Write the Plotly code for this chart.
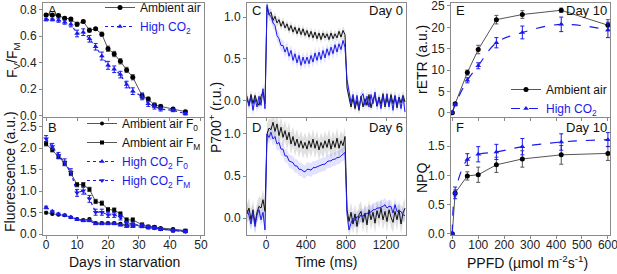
import plotly.graph_objects as go

W, H = 617, 274
BLUE = "#1a1aeb"
BLACK = "#000000"
GREYL = "#555555"

# ---------------- Panel A/B data ----------------
days = [0, 2, 4, 6, 8, 10, 12, 14, 16, 18, 20, 22, 24, 26, 28, 31, 33, 35, 37, 41, 45]
fvfm_air = [0.76, 0.76, 0.755, 0.735, 0.73, 0.69, 0.71, 0.645, 0.655, 0.615, 0.505, 0.465, 0.41, 0.345, 0.29, 0.15, 0.125, 0.08, 0.07, 0.05, 0.03]
fvfm_air_err = [0.01, 0.01, 0.01, 0.01, 0.01, 0.015, 0.01, 0.015, 0.01, 0.015, 0.02, 0.02, 0.02, 0.02, 0.02, 0.02, 0.015, 0.015, 0.015, 0.01, 0.01]
fvfm_co2 = [0.725, 0.725, 0.72, 0.705, 0.69, 0.62, 0.63, 0.58, 0.52, 0.45, 0.38, 0.35, 0.31, 0.235, 0.185, 0.145, 0.09, 0.07, 0.05, 0.04, 0.015]
fvfm_co2_err = [0.01, 0.01, 0.015, 0.015, 0.02, 0.025, 0.025, 0.025, 0.025, 0.03, 0.03, 0.025, 0.025, 0.025, 0.025, 0.025, 0.02, 0.02, 0.015, 0.01, 0.01]

f0_air = [0.5, 0.47, 0.45, 0.44, 0.39, 0.35, 0.33, 0.35, 0.26, 0.26, 0.26, 0.26, 0.24, 0.21, 0.21, 0.2, 0.18, 0.17, 0.14, 0.12, 0.08]
fm_air = [2.1, 1.96, 1.8, 1.65, 1.42, 1.15, 1.15, 1.04, 0.76, 0.72, 0.57, 0.56, 0.47, 0.33, 0.33, 0.22, 0.17, 0.16, 0.12, 0.09, 0.08]
f0_co2 = [0.62, 0.53, 0.47, 0.44, 0.39, 0.34, 0.31, 0.31, 0.24, 0.24, 0.24, 0.24, 0.21, 0.18, 0.18, 0.17, 0.16, 0.14, 0.12, 0.09, 0.06]
fm_co2 = [2.22, 2.04, 1.83, 1.67, 1.44, 0.96, 1.01, 0.82, 0.51, 0.51, 0.45, 0.45, 0.39, 0.25, 0.23, 0.2, 0.16, 0.14, 0.12, 0.08, 0.06]
f0_err = [0.03, 0.02, 0.02, 0.02, 0.02, 0.02, 0.02, 0.02, 0.02, 0.02, 0.02, 0.02, 0.02, 0.02, 0.02, 0.02, 0.02, 0.02, 0.02, 0.02, 0.02]
fm_air_err = [0.05, 0.05, 0.05, 0.05, 0.05, 0.05, 0.05, 0.05, 0.05, 0.05, 0.05, 0.05, 0.05, 0.05, 0.05, 0.04, 0.04, 0.03, 0.03, 0.03, 0.03]
fm_co2_err = [0.07, 0.07, 0.07, 0.08, 0.08, 0.08, 0.08, 0.08, 0.07, 0.07, 0.06, 0.06, 0.06, 0.05, 0.05, 0.04, 0.04, 0.03, 0.03, 0.03, 0.03]

# ---------------- Panel C/D data (P700+) ----------------
time_ms = list(range(-190, 1400, 20))
c_air = [0.02, -0.05, 0.07, -0.04, 0.06, -0.02, -0.06, 0.05, 0.1, -0.04,
         1.12, 1.03, 1.06, 0.96, 1.01, 0.93, 0.97, 0.89, 0.95, 0.87,
         0.92, 0.84, 0.9, 0.82, 0.88, 0.8, 0.87, 0.79, 0.86, 0.78,
         0.84, 0.76, 0.83, 0.75, 0.82, 0.74, 0.81, 0.73, 0.81, 0.75,
         0.8, 0.73, 0.81, 0.74, 0.8, 0.75, 0.83, 0.76, 0.84, 0.79,
         0.15, 0.04, -0.08, 0.03, -0.1, 0.0, -0.12, 0.05, -0.08, 0.02,
         -0.06, 0.07, -0.09, 0.01, 0.06, -0.07, 0.04, -0.05, 0.08, -0.08,
         0.03, -0.06, 0.07, -0.04, 0.05, -0.09, 0.04, -0.03, 0.06, -0.02]
c_co2 = [0.05, -0.07, 0.04, -0.12, 0.02, -0.08, 0.05, -0.06, 0.14, -0.1,
         1.15, 1.03, 1.01, 0.93, 0.9, 0.78, 0.74, 0.66, 0.66, 0.58,
         0.64, 0.53, 0.6, 0.48, 0.56, 0.45, 0.54, 0.42, 0.52, 0.44,
         0.52, 0.44, 0.54, 0.46, 0.57, 0.48, 0.58, 0.49, 0.6, 0.51,
         0.62, 0.54, 0.64, 0.56, 0.67, 0.58, 0.68, 0.61, 0.72, 0.64,
         0.25, 0.1, -0.03, 0.07, -0.07, 0.06, -0.1, 0.04, 0.08, -0.06,
         0.05, -0.08, 0.07, -0.04, 0.1, -0.07, 0.02, -0.1, 0.05, -0.05,
         0.08, -0.08, 0.04, -0.12, 0.06, -0.06, 0.03, -0.1, 0.05, -0.14]
d_air = [0.05, 0.12, -0.02, 0.1, -0.07, 0.07, 0.14, 0.12, 0.22, 0.08,
         1.0, 1.07, 1.05, 1.14, 1.03, 1.12, 0.98, 1.08, 0.96, 1.04,
         0.93, 1.02, 0.88, 0.97, 0.86, 0.94, 0.84, 0.92, 0.83, 0.9,
         0.82, 0.92, 0.84, 0.94, 0.83, 0.92, 0.81, 0.9, 0.83, 0.92,
         0.84, 0.94, 0.82, 0.92, 0.84, 0.95, 0.83, 0.92, 0.86, 0.97,
         0.1, -0.04, 0.07, -0.07, 0.05, -0.1, 0.04, 0.08, -0.05, 0.06,
         -0.08, 0.1, -0.02, 0.07, -0.06, 0.09, 0.0, 0.12, -0.02, 0.08,
         -0.04, 0.1, 0.01, -0.05, 0.08, -0.02, 0.1, -0.07, 0.06, 0.12]
d_co2 = [0.1, 0.03, -0.07, 0.07, -0.1, 0.04, 0.1, -0.02, 0.07, -0.14,
         1.0, 0.96, 1.02, 0.94, 0.97, 0.88, 0.9, 0.82, 0.82, 0.74,
         0.74, 0.68, 0.67, 0.66, 0.62, 0.62, 0.58, 0.58, 0.56, 0.55,
         0.58, 0.58, 0.57, 0.6, 0.6, 0.61, 0.62, 0.63, 0.64, 0.64,
         0.67, 0.68, 0.68, 0.7, 0.7, 0.72, 0.72, 0.74, 0.76, 0.78,
         0.05, -0.14, -0.06, 0.0, -0.03, 0.02, 0.0, 0.04, 0.02, 0.06,
         0.05, 0.08, 0.07, 0.1, 0.1, 0.12, 0.12, 0.13, 0.14, 0.16,
         0.12, 0.14, 0.14, 0.06, 0.16, 0.08, 0.08, 0.08, 0.04, 0.03]
c_air_sd, c_co2_sd, d_air_sd, d_co2_sd = 0.05, 0.07, 0.12, 0.08

# ---------------- Panel E/F data ----------------
ppfd = [0, 11, 58, 100, 170, 270, 420, 600]
retr_air = [0, 2.1, 9.4, 14.8, 21.8, 23.0, 24.0, 20.5]
retr_air_err = [0.2, 0.3, 0.6, 1.0, 1.0, 0.9, 0.5, 1.3]
retr_co2 = [0, 1.9, 7.6, 11.0, 16.4, 18.8, 20.7, 19.4]
retr_co2_err = [0.2, 0.3, 0.6, 0.7, 1.2, 1.5, 1.7, 1.8]
npq_air = [0, 0.70, 0.99, 1.01, 1.18, 1.28, 1.35, 1.375]
npq_air_err = [0, 0.05, 0.07, 0.13, 0.13, 0.14, 0.16, 0.12]
npq_co2 = [0, 0.70, 1.27, 1.36, 1.40, 1.49, 1.57, 1.61]
npq_co2_err = [0, 0.1, 0.1, 0.13, 0.13, 0.14, 0.14, 0.12]


def px(x):
    return x / W


def py(y):
    return 1 - y / H


fig = go.Figure()


def err(vals, color):
    return dict(type="data", array=vals, visible=True, color=color, thickness=1, width=2)


# Panel A
fig.add_trace(go.Scatter(x=days, y=fvfm_air, error_y=err(fvfm_air_err, GREYL), mode="lines+markers",
                         line=dict(color=GREYL, width=1), marker=dict(color=BLACK, size=5, symbol="circle"),
                         name="Ambient air", legend="legend", xaxis="x", yaxis="y"))
fig.add_trace(go.Scatter(x=days, y=fvfm_co2, error_y=err(fvfm_co2_err, BLUE), mode="lines+markers",
                         line=dict(color=BLUE, width=1.2, dash="dot"), marker=dict(color=BLUE, size=5, symbol="triangle-up"),
                         name="<span style='color:#1a1aeb'>High CO<sub>2</sub></span>", legend="legend", xaxis="x", yaxis="y"))

# Panel B
fig.add_trace(go.Scatter(x=days, y=f0_air, error_y=err(f0_err, GREYL), mode="lines+markers",
                         line=dict(color=GREYL, width=1), marker=dict(color=BLACK, size=4, symbol="circle"),
                         name="Ambient air F<sub>0</sub>", legend="legend2", xaxis="x2", yaxis="y2"))
fig.add_trace(go.Scatter(x=days, y=fm_air, error_y=err(fm_air_err, GREYL), mode="lines+markers",
                         line=dict(color=GREYL, width=1), marker=dict(color=BLACK, size=4, symbol="square"),
                         name="Ambient air F<sub>M</sub>", legend="legend2", xaxis="x2", yaxis="y2"))
fig.add_trace(go.Scatter(x=days, y=f0_co2, error_y=err(f0_err, BLUE), mode="lines+markers",
                         line=dict(color=BLUE, width=1.2, dash="dot"), marker=dict(color=BLUE, size=5, symbol="triangle-up"),
                         name="<span style='color:#1a1aeb'>High CO<sub>2</sub> F<sub>0</sub></span>", legend="legend2", xaxis="x2", yaxis="y2"))
fig.add_trace(go.Scatter(x=days, y=fm_co2, error_y=err(fm_co2_err, BLUE), mode="lines+markers",
                         line=dict(color=BLUE, width=1.2, dash="dot"), marker=dict(color=BLUE, size=5, symbol="triangle-down"),
                         name="<span style='color:#1a1aeb'>High CO<sub>2</sub> F<sub>M</sub></span>", legend="legend2", xaxis="x2", yaxis="y2"))


# Panels C and D: bands + traces
def band(xa, ya, vals, sd, fillcolor):
    up = [v + sd for v in vals]
    lo = [v - sd for v in vals]
    fig.add_trace(go.Scatter(x=time_ms, y=up, mode="lines", line=dict(width=0), showlegend=False,
                             hoverinfo="skip", xaxis=xa, yaxis=ya))
    fig.add_trace(go.Scatter(x=time_ms, y=lo, mode="lines", line=dict(width=0), fill="tonexty",
                             fillcolor=fillcolor, showlegend=False, hoverinfo="skip", xaxis=xa, yaxis=ya))


GBAND = "rgba(0,0,0,0.12)"
BBAND = "rgba(40,40,255,0.13)"
for xa, ya, air, co2, sa, sc in [("x3", "y3", c_air, c_co2, c_air_sd, c_co2_sd),
                                 ("x4", "y4", d_air, d_co2, d_air_sd, d_co2_sd)]:
    band(xa, ya, air, sa, GBAND)
    band(xa, ya, co2, sc, BBAND)
    fig.add_trace(go.Scatter(x=time_ms, y=air, mode="lines", line=dict(color="#111111", width=1),
                             showlegend=False, xaxis=xa, yaxis=ya))
    fig.add_trace(go.Scatter(x=time_ms, y=co2, mode="lines", line=dict(color=BLUE, width=1),
                             showlegend=False, xaxis=xa, yaxis=ya))

# Panel E
fig.add_trace(go.Scatter(x=ppfd, y=retr_air, error_y=err(retr_air_err, GREYL), mode="lines+markers",
                         line=dict(color=GREYL, width=1), marker=dict(color=BLACK, size=5, symbol="circle"),
                         name="Ambient air", legend="legend3", xaxis="x5", yaxis="y5"))
fig.add_trace(go.Scatter(x=ppfd, y=retr_co2, error_y=err(retr_co2_err, BLUE), mode="lines+markers",
                         line=dict(color=BLUE, width=1.2, dash="dash", shape="spline"),
                         marker=dict(color=BLUE, size=5, symbol="triangle-up"),
                         name="<span style='color:#1a1aeb'>High CO<sub>2</sub></span>", legend="legend3", xaxis="x5", yaxis="y5"))

# Panel F
fig.add_trace(go.Scatter(x=ppfd, y=npq_air, error_y=err(npq_air_err, GREYL), mode="lines+markers",
                         line=dict(color=GREYL, width=1), marker=dict(color=BLACK, size=5, symbol="circle"),
                         showlegend=False, xaxis="x6", yaxis="y6"))
fig.add_trace(go.Scatter(x=ppfd, y=npq_co2, error_y=err(npq_co2_err, BLUE), mode="lines+markers",
                         line=dict(color=BLUE, width=1.2, dash="dash", shape="spline"),
                         marker=dict(color=BLUE, size=5, symbol="triangle-up"),
                         showlegend=False, xaxis="x6", yaxis="y6"))

AX = dict(showline=True, linecolor="#8a8a8a", linewidth=1, mirror=True, ticks="outside", ticklen=3,
          tickcolor="#8a8a8a", showgrid=False, zeroline=False, tickfont=dict(size=12, color="#222"),
          automargin=False, ticklabeloverflow="allow")
XLAB = dict(ticklabelstandoff=-4)

cols = {"A": (43, 204), "C": (247, 406), "E": (451, 610)}
top_rows = (3, 117)
bot_rows = (118, 235)


def dom(a, b):
    return [px(a), px(b)]


def ydom(a, b):
    return [py(b), py(a)]


layout_axes = {}
# A
layout_axes["xaxis"] = dict(AX, domain=dom(*cols["A"]), range=[-1, 51], tickvals=[0, 10, 20, 30, 40, 50],
                            showticklabels=False, anchor="y")
layout_axes["yaxis"] = dict(AX, domain=ydom(*top_rows), range=[-0.01, 0.85], tickvals=[0, 0.2, 0.4, 0.6, 0.8],
                            tickformat=".1f", anchor="x")
# B
layout_axes["xaxis2"] = dict(AX, **XLAB, domain=dom(*cols["A"]), range=[-1, 51], tickvals=[0, 10, 20, 30, 40, 50], anchor="y2")
layout_axes["yaxis2"] = dict(AX, domain=ydom(*bot_rows), range=[-0.02, 2.7], tickvals=[0, 0.5, 1, 1.5, 2, 2.5],
                             tickformat=".1f", anchor="x2")
# C
layout_axes["xaxis3"] = dict(AX, domain=dom(*cols["C"]), range=[-190, 1400], tickvals=[0, 400, 800, 1200],
                             showticklabels=False, anchor="y3")
layout_axes["yaxis3"] = dict(AX, domain=ydom(*top_rows), range=[-0.2, 1.17], tickvals=[0, 0.5, 1.0],
                             tickformat=".1f", anchor="x3")
# D
layout_axes["xaxis4"] = dict(AX, **XLAB, domain=dom(*cols["C"]), range=[-190, 1400], tickvals=[0, 400, 800, 1200], anchor="y4")
layout_axes["yaxis4"] = dict(AX, domain=ydom(*bot_rows), range=[-0.2, 1.19], tickvals=[0, 0.5, 1.0],
                             tickformat=".1f", anchor="x4")
# E
layout_axes["xaxis5"] = dict(AX, domain=dom(*cols["E"]), range=[-5, 608], tickvals=[0, 100, 200, 300, 400, 500, 600],
                             showticklabels=False, anchor="y5")
layout_axes["yaxis5"] = dict(AX, domain=ydom(*top_rows), range=[-1, 25.7], tickvals=[0, 5, 10, 15, 20, 25], anchor="x5")
# F
layout_axes["xaxis6"] = dict(AX, **XLAB, domain=dom(*cols["E"]), range=[-5, 608], tickvals=[0, 100, 200, 300, 400, 500, 600],
                             anchor="y6")
layout_axes["yaxis6"] = dict(AX, domain=ydom(*bot_rows), range=[-0.02, 1.98], tickvals=[0, 0.5, 1.0, 1.5],
                             tickformat=".1f", anchor="x6")

LEG = dict(bgcolor="rgba(0,0,0,0)", font=dict(size=12, color="#111", family="Liberation Sans, Arial, sans-serif"),
           itemwidth=30, tracegroupgap=0, borderwidth=0, traceorder="normal")

annotations = []


def ann(x, y, text, size=13, xanchor="left", yanchor="top", angle=0):
    annotations.append(dict(x=px(x), y=py(y), xref="paper", yref="paper", text=text, showarrow=False,
                            xanchor=xanchor, yanchor=yanchor, textangle=angle,
                            font=dict(size=size, color="#111")))


for lab, x, y in [("A", 46, 1), ("B", 46, 118), ("C", 250, 1), ("D", 250, 118), ("E", 454, 1), ("F", 454, 118)]:
    ann(x, y, lab)
ann(405, 1, "Day 0", xanchor="right")
ann(405, 118, "Day 6", xanchor="right")
ann(609, 1, "Day 10", xanchor="right")
ann(609, 118, "Day 10", xanchor="right")

ann(13, 60, "F<sub>V</sub>/F<sub>M</sub>", size=14, xanchor="center", yanchor="middle", angle=-90)
ann(10, 172, "Fluorescence (a.u.)", size=14, xanchor="center", yanchor="middle", angle=-90)
ann(215, 118, "P700<sup>+</sup> (r.u.)", size=14, xanchor="center", yanchor="middle", angle=-90)
ann(422, 60, "rETR (a.u.)", size=14, xanchor="center", yanchor="middle", angle=-90)
ann(422, 178, "NPQ", size=14, xanchor="center", yanchor="middle", angle=-90)

ann(124, 262, "Days in starvation", size=14, xanchor="center", yanchor="middle")
ann(326, 262, "Time (ms)", size=14, xanchor="center", yanchor="middle")
ann(527, 262, "PPFD (µmol m<sup>-2</sup>s<sup>-1</sup>)", size=14, xanchor="center", yanchor="middle")

fig.update_layout(
    width=W, height=H, margin=dict(l=0, r=0, t=0, b=0, autoexpand=False), autosize=False,
    paper_bgcolor="white", plot_bgcolor="white",
    font=dict(family="Liberation Sans, Arial, sans-serif", size=12, color="#111"),
    legend=dict(LEG, x=px(206), y=py(-7), xanchor="right", yanchor="top"),
    legend2=dict(LEG, x=px(206), y=py(109), xanchor="right", yanchor="top"),
    legend3=dict(LEG, x=px(612), y=py(123), xanchor="right", yanchor="bottom"),
    annotations=annotations,
    showlegend=True,
    **layout_axes,
)

fig.write_html("out.html", config={"displayModeBar": False},
               post_script="document.body.style.margin='0';document.body.style.padding='0';")
